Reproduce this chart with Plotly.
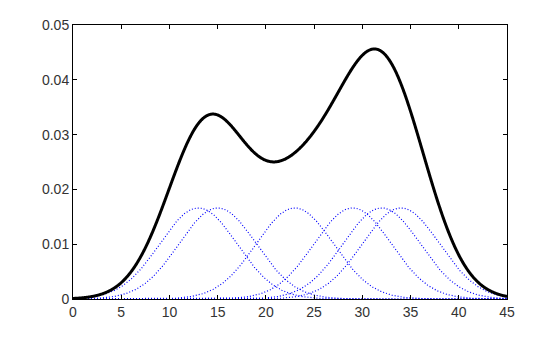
import numpy as np
import plotly.graph_objects as go

# Kernel centres (data points) and bandwidth of the density estimate
centers = [13, 15, 23, 29, 32, 34]
bandwidth = 4.0
x_ticks = [0, 5, 10, 15, 20, 25, 30, 35, 40, 45]
y_ticks = [0, 0.01, 0.02, 0.03, 0.04, 0.05]
y_tick_labels = ["0", "0.01", "0.02", "0.03", "0.04", "0.05"]

x = np.linspace(0, 45, 901)
n = len(centers)

def kernel(c):
    return np.exp(-0.5 * ((x - c) / bandwidth) ** 2) / (bandwidth * np.sqrt(2 * np.pi)) / n

fig = go.Figure()
total = np.zeros_like(x)
for c in centers:
    k = kernel(c)
    total += k
    fig.add_trace(go.Scatter(x=x, y=k, mode="lines",
                             line=dict(color="#0000ff", width=1.2, dash="1px,2px"),
                             showlegend=False, hoverinfo="skip"))
fig.add_trace(go.Scatter(x=x, y=total, mode="lines", line_shape="spline",
                         line=dict(color="black", width=3),
                         showlegend=False))

axis_common = dict(showgrid=False, zeroline=False, showline=True, linecolor="black",
                   linewidth=1, mirror="allticks", ticks="inside", ticklen=4,
                   tickcolor="black", tickfont=dict(family="Liberation Sans, Arial", size=14, color="#333333"))
fig.update_xaxes(range=[0, 45], tickvals=x_ticks, **axis_common)
fig.update_yaxes(range=[0, 0.05], tickvals=y_ticks, ticktext=y_tick_labels, **axis_common)
fig.update_layout(width=560, height=337, margin=dict(l=73, r=53, t=25, b=38),
                  plot_bgcolor="white", paper_bgcolor="white")
fig.write_html("out.html")
